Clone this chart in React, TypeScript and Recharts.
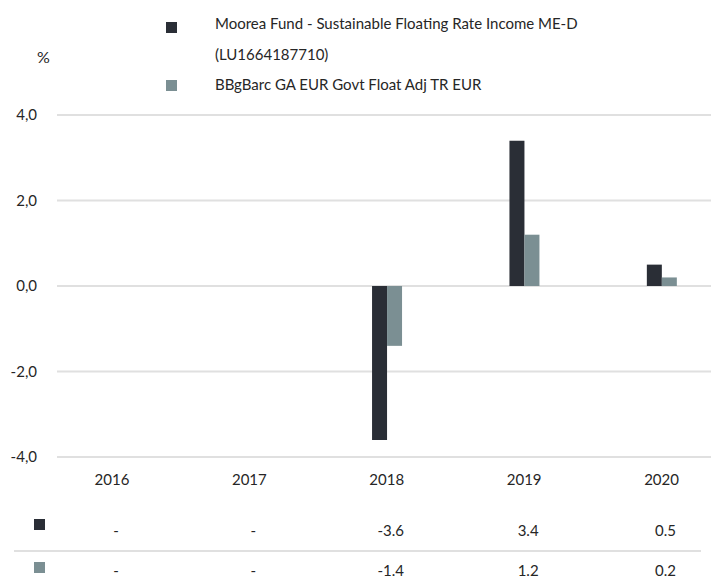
import { BarChart, Bar, XAxis, YAxis, CartesianGrid } from "recharts";

const years = ["2016", "2017", "2018", "2019", "2020"];
const fundValues: (number | null)[] = [null, null, -3.6, 3.4, 0.5];
const indexValues: (number | null)[] = [null, null, -1.4, 1.2, 0.2];
const yTicks = [-4, -2, 0, 2, 4];
const fundName = "Moorea Fund - Sustainable Floating Rate Income ME-D";
const fundIsin = "(LU1664187710)";
const indexName = "BBgBarc GA EUR Govt Float Adj TR EUR";

const FUND = "#2a2e36";
const INDEX = "#7b8f93";
const GRID = "#e0e0e0";
const TEXT = "#262626";
const FONT = "Lato, 'Noto Sans', sans-serif";

const data = years.map((year, i) => ({
  idx: i,
  year,
  fund: fundValues[i],
  index: indexValues[i],
}));

const fmtCell = (v: number | null) => (v === null ? "-" : v.toFixed(1));

// x axis tick also draws the two table rows under each year
function TableTick(props: any) {
  const { x, y, payload } = props;
  const i = payload.value as number;
  return (
    <g fontFamily={FONT} fontSize={15} fill={TEXT}>
      <text x={x} y={y + 28} textAnchor="middle">{years[i]}</text>
      <text x={x + 4} y={y + 79} textAnchor="middle">{fmtCell(fundValues[i])}</text>
      <text x={x + 4} y={y + 119} textAnchor="middle">{fmtCell(indexValues[i])}</text>
    </g>
  );
}

const sq = (left: number, top: number, color: string) => (
  <div style={{ position: "absolute", left, top, width: 11, height: 11, background: color }} />
);

export default function App() {
  return (
    <div
      style={{
        position: "absolute",
        left: 0,
        top: 0,
        width: 711,
        height: 581,
        fontFamily: FONT,
        color: TEXT,
        fontSize: 15,
        background: "#fff",
        overflow: "hidden",
      }}
    >
      <BarChart
        width={711}
        height={581}
        data={data}
        margin={{ top: 115, right: 0, left: 0, bottom: 0 }}
        barGap={0}
      >
        <CartesianGrid vertical={false} stroke={GRID} strokeWidth={2} />
        <XAxis
          dataKey="idx"
          type="number"
          domain={[-0.4, 4.36]}
          ticks={[0, 1, 2, 3, 4]}
          allowDataOverflow
          interval={0}
          axisLine={false}
          tickLine={false}
          tickSize={0}
          tickMargin={0}
          height={124}
          tick={<TableTick />}
        />
        <YAxis
          domain={[-4, 4]}
          ticks={yTicks}
          width={57}
          axisLine={false}
          tickLine={false}
          tickSize={0}
          tickMargin={20}
          tick={{ fill: TEXT, fontSize: 15, fontFamily: FONT }}
          tickFormatter={(v: number) => v.toFixed(1).replace(".", ",")}
        />
        <Bar dataKey="fund" fill={FUND} barSize={15} isAnimationActive={false} />
        <Bar dataKey="index" fill={INDEX} barSize={15} isAnimationActive={false} />
      </BarChart>

      {/* legend */}
      {sq(166, 22, FUND)}
      {sq(166, 80, INDEX)}
      <div style={{ position: "absolute", left: 215, top: 8, lineHeight: "30px", whiteSpace: "nowrap" }}>
        <div>{fundName}</div>
        <div style={{ marginTop: 1 }}>{fundIsin}</div>
        <div>{indexName}</div>
      </div>
      <div style={{ position: "absolute", left: 37, top: 46, lineHeight: "22px", fontSize: 16 }}>%</div>

      {/* table row markers and separator */}
      {sq(34, 519, FUND)}
      {sq(34, 562, INDEX)}
      <div style={{ position: "absolute", left: 14, top: 550, width: 687, height: 2, background: GRID }} />
    </div>
  );
}
